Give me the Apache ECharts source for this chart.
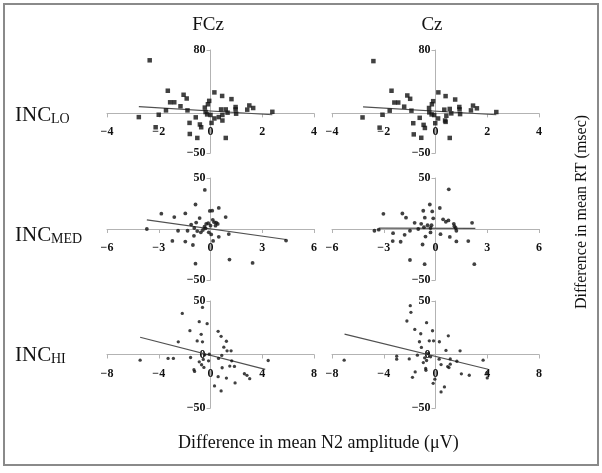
<!DOCTYPE html>
<html>
<head>
<meta charset="utf-8">
<script src="https://cdn.jsdelivr.net/npm/echarts@6/dist/echarts.min.js"></script>
<style>html,body{margin:0;padding:0;background:#fff;}#c{width:602px;height:473px;}</style>
</head>
<body>
<div id="c"></div>
<script>
// ---- Data ----
const columnTitles = ['FCz', 'Cz'];
const rowNames = ['LO', 'MED', 'HI'];

const fczLo = [[-2.35,67],[-1.65,28.6],[-1.56,14],[-1.40,14],[-1.72,3.8],[-2.0,-1.7],[-2.77,-4.7],[-2.12,-17.5],[-1.16,9],[-1.04,23.5],[-0.92,18.8],[-0.89,3.8],[-0.81,-12],[-0.80,-26],[-0.57,-5],[-0.41,-14],[-0.36,-17.5],[-0.51,-31],[-0.22,7.3],[-0.10,11.5],[-0.05,15.8],[-0.19,1.7],[-0.13,-1.3],[0,-2],[0.04,-12],[0.15,-6.4],[0.15,26.5],[0.45,22],[0.41,5],[0.46,-2],[0.46,-9],[0.59,5],[0.66,0.9],[0.59,-31],[0.81,18],[0.97,8],[0.97,5],[0.99,-0.4],[1.5,10],[1.42,4.7],[1.65,6.8],[2.39,2],[0.32,-4.7]];
const czLo = [[-2.40,66],[-1.70,28.6],[-1.59,13.7],[-1.44,13.7],[-1.77,3.4],[-2.05,-1.7],[-2.82,-5.1],[-2.16,-18],[-1.21,8.5],[-1.09,22.6],[-0.98,18.4],[-0.93,3.4],[-0.86,-12.4],[-0.84,-26.5],[-0.61,-5.6],[-0.46,-14.5],[-0.41,-18.4],[-0.55,-30.8],[-0.25,6.8],[-0.14,11.5],[-0.09,15.4],[-0.24,1.3],[-0.15,-1.3],[-0.05,-2.1],[-0.01,-12.4],[0.10,-6.4],[0.11,26.5],[0.39,21.8],[0.34,4.7],[0.42,-3],[0.39,-10.7],[0.55,5.6],[0.61,0],[0.55,-31],[0.76,17.5],[0.92,8.1],[0.93,5.1],[0.95,-0.9],[1.45,9.8],[1.37,3.8],[1.60,6.4],[2.35,1.7],[0.37,-9]];
const fczMed = [[-0.33,38.3],[-0.87,24],[-2.85,15],[-2.10,11.7],[-1.46,15.3],[-0.63,10.7],[-0.04,17.7],[0.10,18],[0.48,20.7],[0.88,11.7],[-3.69,0],[-1.88,-1.7],[-1.33,-1.7],[-1.12,4.3],[-0.94,1],[-0.83,6.3],[-0.96,-6.7],[-0.77,-2],[-0.56,-3.3],[-0.44,-1],[-0.35,2.3],[-0.25,5],[-0.13,5.7],[-0.29,0.7],[-0.10,-3.3],[0.04,-5.3],[0.13,9],[0.21,6.7],[0.33,6.3],[0.42,5],[0.29,3.3],[0.15,-11.7],[0.48,-7.7],[1.06,-5],[-2.21,-11.7],[-1.46,-12.3],[-1.02,-15.7],[-0.87,-34],[1.10,-30],[2.44,-33.3],[4.38,-11.3],[0,3.3]];
const czMed = [[0.77,38.9],[-0.33,24],[-3.02,14.9],[-1.92,15.2],[-1.71,11.1],[-0.71,17.9],[-0.19,17.2],[0.25,20.6],[-0.62,11.1],[-0.13,10.5],[-1.21,6.1],[-0.83,5.1],[-0.67,1.7],[-0.46,3.7],[-0.23,3.7],[-0.29,1],[-1.0,0],[-1.48,-1.7],[-1.79,-5.7],[-2.46,-4.1],[-2.48,-11.8],[-2.02,-12.5],[-3.54,-1.7],[-3.29,-0.7],[-0.58,-7.4],[-0.75,-15.2],[-1.48,-30.4],[-0.63,-34.5],[-0.29,-3.4],[0.44,9.5],[0.60,7.1],[0.75,8.4],[1.06,5.1],[1.10,2.7],[1.21,-1.7],[0.29,-5.1],[0.83,-7.8],[1.21,-12.2],[1.90,-11.8],[2.12,6.1],[2.25,-34.5],[1.17,1]];
const fczHi = [[-0.62,44],[-2.18,38.4],[-0.87,30.7],[-0.26,28.8],[-1.59,22.3],[-0.72,18.9],[-1.03,12.7],[-0.62,11.8],[-2.49,11.8],[0.59,21.7],[0.82,17],[1.23,12.4],[1.03,6.8],[1.28,3.4],[1.59,3.4],[-5.44,-5.3],[-3.28,-3.7],[-2.87,-3.7],[-1.54,-2.8],[-0.44,-0.3],[-0.10,0.3],[-0.87,-6.8],[-0.56,-4.6],[-0.15,-5.9],[-0.69,-9.6],[-0.51,-12.1],[-1.28,-14.2],[-1.23,-15.8],[0.62,-3.7],[0.87,-0.9],[0.90,-12.4],[1.64,-5.9],[1.49,-10.8],[1.85,-11.1],[0.59,-20.7],[1.23,-22],[1.90,-26.6],[0.31,-29.4],[0.82,-34],[2.62,-18],[2.82,-19.5],[3.03,-22.6],[4.46,-5.6]];
const czHi = [[-1.95,45.6],[-1.90,39.4],[-2.21,31.3],[-0.69,29.7],[-1.60,23.4],[-0.23,22.2],[-1.14,19.4],[0.99,17.5],[-1.24,11.9],[-0.48,12.8],[-0.15,12.8],[0.30,11.9],[-1.09,6.6],[0.81,3.8],[1.90,3.4],[-7.06,-5.3],[-3.0,-1.6],[-3.0,-4.4],[-2.03,-4.1],[-1.40,-0.6],[-0.58,0.9],[-0.38,-2.2],[-0.84,-3.1],[-0.94,-7.5],[-0.69,-5.6],[-0.76,-13.1],[-0.74,-14.7],[-1.57,-16.3],[-1.78,-21.3],[0.28,-4.4],[0.43,-9.4],[1.14,-4.1],[1.65,-6.3],[0.94,-11.3],[1.04,-12.2],[2.0,-18.1],[2.61,-19.4],[-0.05,-23.1],[-0.18,-26.9],[0.69,-30.3],[0.43,-35],[3.68,-5.3],[3.98,-16.9],[4.0,-21.9],[1.14,-9]];

// trend-line end points
const fczLoTrend = [[-2.77,8.5],[2.39,-1.7]];
const czLoTrend = [[-2.80,8.1],[2.35,-1.7]];
const fczMedTrend = [[-3.69,9],[4.38,-10.3]];
const czMedTrend = [[-3.27,0.8],[2.31,0.7]];
const fczHiTrend = [[-5.44,16.1],[4.23,-13.9]];
const czHiTrend = [[-7.03,19.1],[4.06,-13.8]];

// axis ranges & tick labels
const xRanges = [[-4,4,2],[-6,6,3],[-8,8,4]];
const yRanges = [[-50,80],[-50,50],[-50,50]];
const yTickLabels = [[-50,80],[-50,50],[-50,0,50]];

const panels = [
  {pts: fczLo, trend: fczLoTrend, row: 0, col: 0, sym: 'rect', size: 4.5},
  {pts: czLo, trend: czLoTrend, row: 0, col: 1, sym: 'rect', size: 4.5},
  {pts: fczMed, trend: fczMedTrend, row: 1, col: 0, sym: 'circle', size: 3.8},
  {pts: czMed, trend: czMedTrend, row: 1, col: 1, sym: 'circle', size: 3.8},
  {pts: fczHi, trend: fczHiTrend, row: 2, col: 0, sym: 'circle', size: 3.3},
  {pts: czHi, trend: czHiTrend, row: 2, col: 1, sym: 'circle', size: 3.3}
];

// ---- layout ----
const colLeft = [107, 332];
const rowBox = [[50,103],[178,102],[301,107]];
const plotW = 207;
const AX = '#b3b3b3';
const SERIF = 'Liberation Serif, Times New Roman, serif';
const minus = v => String(v).replace('-', '\u2212');

const grid = [], xAxis = [], yAxis = [], series = [];
panels.forEach((p, i) => {
  const [top, h] = rowBox[p.row];
  grid.push({left: colLeft[p.col], top: top, width: plotW, height: h, containLabel: false});
  const xr = xRanges[p.row], yr = yRanges[p.row];
  // shift each axis so that it crosses the other at zero (labels travel with it)
  const xOff = -h * (0 - yr[0]) / (yr[1] - yr[0]);
  const yOff = -plotW * (0 - xr[0]) / (xr[1] - xr[0]);
  xAxis.push({
    type: 'value', gridIndex: i, min: xr[0], max: xr[1], interval: xr[2],
    position: 'bottom', offset: xOff,
    axisLine: {onZero: false, lineStyle: {color: AX, width: 1}},
    axisTick: {show: true, length: 4, lineStyle: {color: AX}},
    splitLine: {show: false},
    axisLabel: {margin: 13, color: '#111', fontFamily: SERIF, fontWeight: 'bold', fontSize: 12,
      showMinLabel: true, showMaxLabel: true, formatter: minus}
  });
  yAxis.push({
    type: 'value', gridIndex: i, min: yr[0], max: yr[1],
    position: 'left', offset: yOff,
    axisLine: {show: true, onZero: false, lineStyle: {color: AX, width: 1}},
    axisTick: {show: true, length: 4, lineStyle: {color: AX}, customValues: yTickLabels[p.row]},
    splitLine: {show: false},
    axisLabel: {margin: 5, color: '#111', fontFamily: SERIF, fontWeight: 'bold', fontSize: 12,
      customValues: yTickLabels[p.row], formatter: minus}
  });
  series.push({
    type: 'scatter', xAxisIndex: i, yAxisIndex: i, data: p.pts,
    symbol: p.sym, symbolSize: p.size, itemStyle: {color: '#111'}, silent: true, z: 3
  });
  series.push({
    type: 'line', xAxisIndex: i, yAxisIndex: i, data: p.trend, showSymbol: false,
    lineStyle: {color: '#505050', width: 1.2}, silent: true, z: 2
  });
});

const graphic = [
  {type: 'rect', shape: {x: 4, y: 4, width: 594, height: 461}, style: {fill: 'none', stroke: '#8a8a8a', lineWidth: 2}, z: 0},
  {type: 'text', x: 208, y: 25, style: {text: columnTitles[0], font: '19px ' + SERIF, fill: '#111', align: 'center', verticalAlign: 'middle'}},
  {type: 'text', x: 432, y: 25, style: {text: columnTitles[1], font: '19px ' + SERIF, fill: '#111', align: 'center', verticalAlign: 'middle'}},
  {type: 'text', x: 178, y: 443, style: {text: 'Difference in mean N2 amplitude (\u03bcV)', font: '18px ' + SERIF, fill: '#111', align: 'left', verticalAlign: 'middle'}},
  {type: 'text', x: 582, y: 212, rotation: Math.PI / 2, style: {text: 'Difference in mean RT (msec)', font: '16px ' + SERIF, fill: '#111', align: 'center', verticalAlign: 'middle'}}
];
const rowLabelY = [115, 235, 355];
rowNames.forEach((n, r) => {
  graphic.push({type: 'text', x: 15, y: rowLabelY[r], style: {text: 'INC', font: '21px ' + SERIF, fill: '#111', align: 'left', verticalAlign: 'middle'}});
  graphic.push({type: 'text', x: 51, y: rowLabelY[r] + 4, style: {text: n, font: '14px ' + SERIF, fill: '#111', align: 'left', verticalAlign: 'middle'}});
});

const chart = echarts.init(document.getElementById('c'), null, {renderer: 'canvas'});
chart.setOption({
  animation: false,
  backgroundColor: '#fff',
  grid, xAxis, yAxis, series, graphic
});
</script>
</body>
</html>
